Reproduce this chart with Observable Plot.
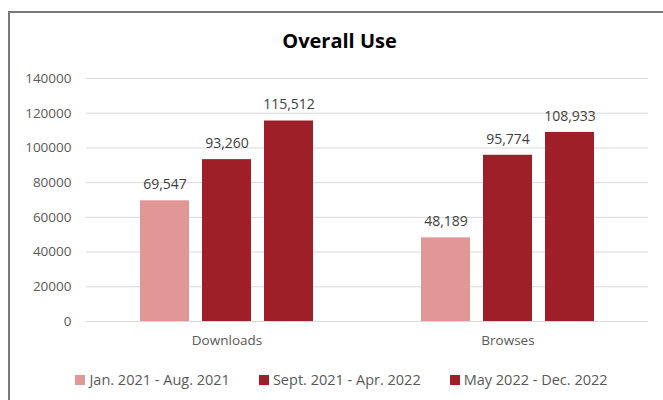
<!DOCTYPE html>
<html>
<head>
<meta charset="utf-8">
<script src="https://cdn.jsdelivr.net/npm/d3@7"></script>
<script src="https://cdn.jsdelivr.net/npm/@observablehq/plot@0.6"></script>
<style>
  html, body { margin: 0; padding: 0; background: #fff; }
  #wrap { position: relative; width: 663px; height: 400px; overflow: hidden; font-family: "Open Sans", sans-serif; }
  #frame { position: absolute; left: 8px; top: 11px; right: -10px; bottom: -10px; border-top: 2px solid #7a7a7a; border-left: 2px solid #7a7a7a; pointer-events: none; }
  #title { height: 60px; box-sizing: border-box; padding-top: 28px; text-align: center; font-weight: 700; font-size: 20px; line-height: 26px; color: #000; padding-left: 16px; }
  #chart svg { display: block; }
  #legend { display: flex; justify-content: center; gap: 29px; font-size: 14.5px; color: #595959; margin-top: 14px; padding-left: 20px; }
  .item { display: flex; align-items: center; gap: 4px; }
  .sw { width: 10px; height: 10px; display: inline-block; }
</style>
</head>
<body>
<div id="wrap">
  <div id="frame"></div>
  <div id="title">Overall Use</div>
  <div id="chart"></div>
  <div id="legend"></div>
</div>
<script>
const categories = ["Downloads", "Browses"];
const periods = ["Jan. 2021 - Aug. 2021", "Sept. 2021 - Apr. 2022", "May 2022 - Dec. 2022"];
const downloads = [69547, 93260, 115512];
const browses = [48189, 95774, 108933];
const yTicks = [0, 20000, 40000, 60000, 80000, 100000, 120000, 140000];
const colors = ["#E09796", "#9E1F27", "#9E1F27"];

const seriesByCategory = {"Downloads": downloads, "Browses": browses};
const data = [];
for (const c of categories) {
  seriesByCategory[c].forEach((v, i) => data.push({category: c, period: periods[i], value: v}));
}

const plot = Plot.plot({
  width: 663,
  height: 296,
  marginTop: 18,
  marginBottom: 35,
  marginLeft: 85,
  marginRight: 15,
  style: {fontFamily: "Open Sans, sans-serif", fontSize: "13.5px", color: "#595959", background: "transparent"},
  fx: {domain: categories, padding: 0, label: null, axis: "bottom", tickSize: 0, tickPadding: 14, fontSize: 14},
  x: {domain: periods, paddingInner: 0.21, paddingOuter: 0.87, axis: null},
  y: {domain: [0, 140000], ticks: yTicks, label: null, tickSize: 0, tickPadding: 15, tickFormat: d => String(d), grid: false},
  color: {domain: periods, range: colors},
  marks: [
    Plot.ruleY(yTicks, {stroke: "#d9d9d9", strokeWidth: 1}),
    Plot.barY(data, {fx: "category", x: "period", y: "value", fill: "period"}),
    Plot.text(data, {fx: "category", x: "period", y: "value", text: d => d3.format(",")(d.value), dy: -16, fontSize: 14, fill: "#404040"})
  ]
});
document.getElementById("chart").appendChild(plot);

const legend = document.getElementById("legend");
periods.forEach((p, i) => {
  const it = document.createElement("div");
  it.className = "item";
  const sw = document.createElement("span");
  sw.className = "sw";
  sw.style.background = colors[i];
  const t = document.createElement("span");
  t.textContent = p;
  it.appendChild(sw); it.appendChild(t);
  legend.appendChild(it);
});
</script>
</body>
</html>
